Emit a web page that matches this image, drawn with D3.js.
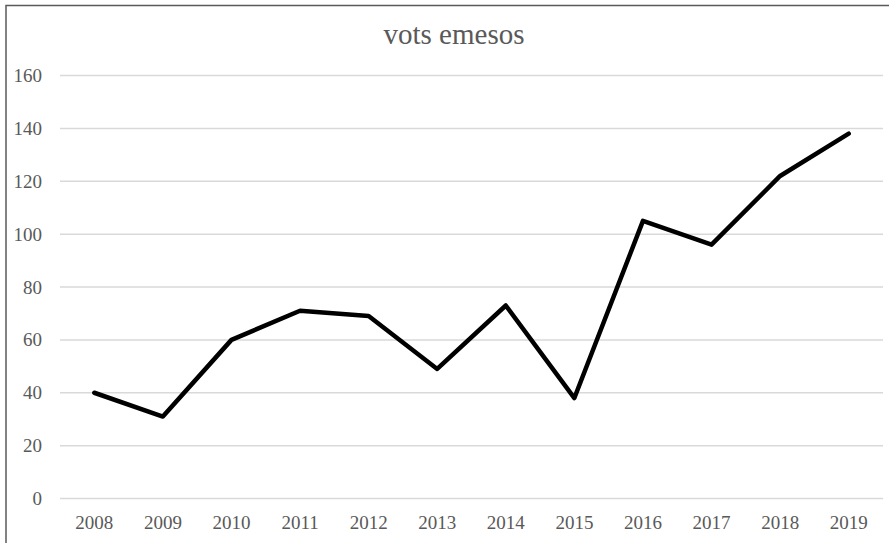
<!DOCTYPE html>
<html lang="ca">
<head>
    <meta charset="UTF-8">
    <script src="https://d3js.org/d3.v7.min.js"></script>
    <title>vots emesos</title>
    <style>
        body { margin: 0; padding: 0; background: #fff; }
        svg { display: block; }
        text { font-family: "Liberation Serif", "DejaVu Serif", serif; fill: #595959; }
    </style>
</head>
<body>
    <div id="chart"></div>
    <script>
        // dades
        let anys = ["2008", "2009", "2010", "2011", "2012", "2013", "2014", "2015", "2016", "2017", "2018", "2019"]
        let vots = [40, 31, 60, 71, 69, 49, 73, 38, 105, 96, 122, 138]
        let yTicks = [0, 20, 40, 60, 80, 100, 120, 140, 160]

        let cfg = {
            width: 889,
            height: 543,
            left: 60,
            right: 883,
            top: 75.5,
            bottom: 498.5
        }

        let svg = d3.select("#chart").append("svg")
            .attr("width", cfg.width)
            .attr("height", cfg.height)

        // marc
        svg.append("path")
            .attr("d", "M6,600 L6,5.5 L900,5.5")
            .attr("fill", "none")
            .attr("stroke", "#595959")
            .attr("stroke-width", 1.5)

        let x = d3.scaleBand().domain(anys).range([cfg.left, cfg.right])
        let y = d3.scaleLinear().domain([0, 160]).range([cfg.bottom, cfg.top])

        // graella
        svg.append("g").selectAll("line").data(yTicks).enter().append("line")
            .attr("x1", cfg.left).attr("x2", cfg.right)
            .attr("y1", d => y(d)).attr("y2", d => y(d))
            .attr("stroke", "#d9d9d9").attr("stroke-width", 1.5)

        // eix Y
        let yAxis = d3.axisLeft(y).tickValues(yTicks).tickSize(0).tickPadding(0)
        let gy = svg.append("g").attr("transform", "translate(42,0)").call(yAxis)
        gy.select(".domain").remove()
        gy.selectAll("text").style("font-size", "19px").attr("fill", "#595959")
            .style("font-family", "'Liberation Serif', serif")

        // eix X
        let xAxis = d3.axisBottom(x).tickSize(0).tickPadding(0)
        let gx = svg.append("g").attr("transform", "translate(0,515.5)").call(xAxis)
        gx.select(".domain").remove()
        gx.selectAll("text").style("font-size", "19px").attr("fill", "#595959")
            .style("font-family", "'Liberation Serif', serif")

        // línia
        let linia = d3.line()
            .x((d, i) => x(anys[i]) + x.bandwidth() / 2)
            .y(d => y(d))

        svg.append("path").datum(vots)
            .attr("d", linia)
            .attr("fill", "none")
            .attr("stroke", "#000")
            .attr("stroke-width", 4.5)
            .attr("stroke-linejoin", "round")
            .attr("stroke-linecap", "round")

        // títol
        svg.append("text")
            .attr("x", 454).attr("y", 44)
            .attr("text-anchor", "middle")
            .style("font-size", "29px")
            .text("vots emesos")
    </script>
</body>
</html>
